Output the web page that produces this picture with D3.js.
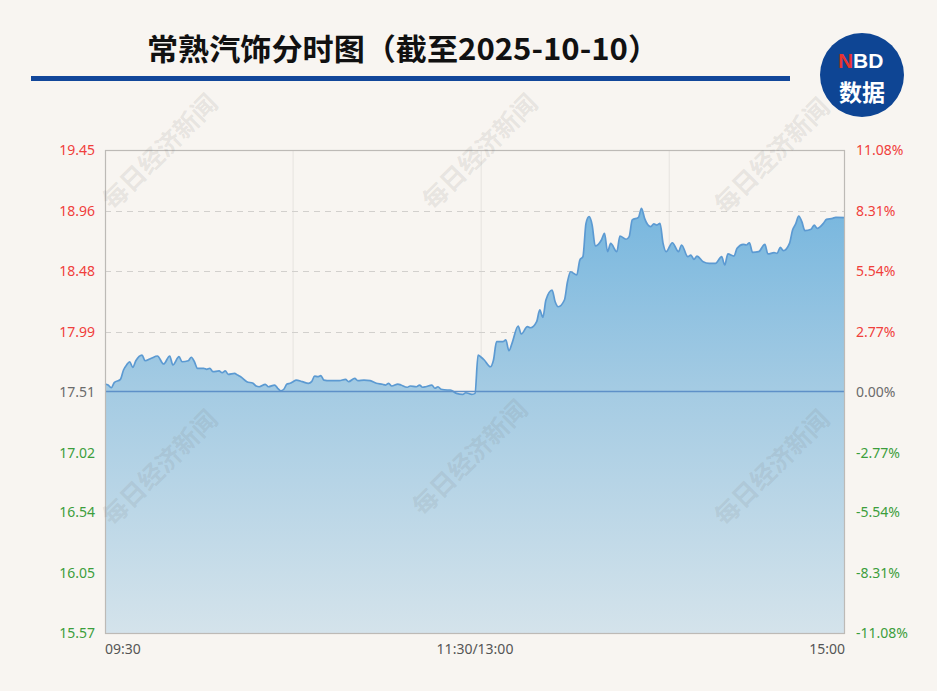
<!DOCTYPE html>
<html><head><meta charset="utf-8">
<script src="https://cdn.jsdelivr.net/npm/d3@7"></script>
<style>
html,body{margin:0;padding:0;background:#f8f5f1;}
svg{display:block;}
</style></head>
<body>
<svg id="c" width="937" height="691"></svg>
<script>
const title = "常熟汽饰分时图（截至2025-10-10）";
const prevClose = 17.51;
const priceTicks = [19.45,18.96,18.48,17.99,17.51,17.02,16.54,16.05,15.57];
const pctTicks = ["11.08%","8.31%","5.54%","2.77%","0.00%","-2.77%","-5.54%","-8.31%","-11.08%"];
const xLabels = [{i:0,t:"09:30"},{i:120,t:"11:30/13:00"},{i:240,t:"15:00"}];
const xGridIdx = [61,122,183];
// minute index (0..240, 09:30 -> 15:00 trading minutes)
const mins = [0,1,2,3,5,6,7,8,9,10,12,13,15,17,19,21,22,24,25,27,28,29,30,32,33,34,35,37,38,39,40,42,43,44,46,48,49,50,52,53,55,56,57,58,59,60,
61,62,64,66,67,68,69,70,71,73,76,78,79,81,82,84,86,88,90,91,92,93,95,96,98,99,101,102,103,104,106,107,108,109,111,112,114,116,117,119,120,
121,122,123,125,126,127,129,130,131,132,134,135,137,138,140,141,142,143,145,146,147,149,150,151,153,154,155,156,157,158,159,161,162,163,164,166,167,169,170,171,173,174,175,177,178,179,
180,181,182,184,186,187,189,190,191,192,194,196,198,200,201,202,204,205,207,208,209,210,212,214,215,217,218,219,220,222,223,224,225,226,227,229,230,231,233,234,236,237,240];
const prices = [17.57,17.562,17.54,17.581,17.608,17.683,17.723,17.749,17.704,17.757,17.803,17.757,17.777,17.795,17.731,17.795,17.723,17.79,17.749,17.757,17.785,17.749,17.696,17.696,17.688,17.696,17.669,17.675,17.661,17.675,17.648,17.656,17.642,17.629,17.589,17.576,17.554,17.548,17.568,17.548,17.562,17.536,17.516,17.528,17.57,17.576,
17.589,17.602,17.589,17.576,17.589,17.634,17.629,17.637,17.602,17.597,17.597,17.608,17.589,17.616,17.597,17.602,17.597,17.576,17.568,17.562,17.576,17.554,17.57,17.562,17.544,17.554,17.548,17.562,17.544,17.548,17.562,17.536,17.548,17.528,17.522,17.522,17.495,17.487,17.5,17.487,17.495,
17.803,17.785,17.763,17.709,17.763,17.91,17.91,17.924,17.838,17.897,18.036,17.972,18.031,18.022,18.071,18.165,18.106,18.245,18.325,18.231,18.191,18.245,18.392,18.472,18.446,18.566,18.593,18.861,18.914,18.847,18.679,18.727,18.781,18.633,18.7,18.633,18.759,18.733,18.754,18.888,18.909,18.982,18.901,18.834,18.856,18.847,
18.861,18.7,18.633,18.705,18.633,18.687,18.593,18.606,18.572,18.598,18.553,18.54,18.54,18.593,18.526,18.615,18.598,18.66,18.692,18.687,18.705,18.628,18.633,18.692,18.615,18.625,18.62,18.668,18.641,18.7,18.807,18.856,18.92,18.874,18.802,18.813,18.847,18.821,18.861,18.893,18.901,18.909,18.906];
const watermarks = [[160,152],[480,152],[772,156],[160,468],[470,458],[772,468]];

const svg = d3.select("#c");
const L=105,R=845,T=150,B=633;
const x = d3.scaleLinear().domain([0,240]).range([L,R]);
const y = d3.scaleLinear().domain([15.57,19.45]).range([B,T]);
const data = mins.map((m,k)=>({m,p:prices[k]}));

// title
svg.append("text").attr("x",403).attr("y",60).attr("text-anchor","middle")
  .attr("font-family","'Noto Sans CJK SC','Noto Sans',sans-serif").attr("font-weight","bold")
  .attr("font-size",30).attr("textLength",512).attr("lengthAdjust","spacingAndGlyphs")
  .attr("fill","#111").text(title);
svg.append("rect").attr("x",31).attr("y",76).attr("width",759).attr("height",5).attr("fill","#12479a");

// logo
svg.append("circle").attr("cx",862).attr("cy",75).attr("r",42).attr("fill","#0e4594");
svg.append("text").attr("x",838).attr("y",68).attr("text-anchor","start")
  .attr("font-family","'Liberation Sans',Arial,sans-serif").attr("font-weight","bold").attr("font-size",21)
  .attr("fill","#e8342f").text("N");
svg.append("text").attr("x",853).attr("y",68).attr("text-anchor","start")
  .attr("font-family","'Liberation Sans',Arial,sans-serif").attr("font-weight","bold").attr("font-size",21)
  .attr("fill","#fff").text("BD");
svg.append("text").attr("x",862).attr("y",101).attr("text-anchor","middle")
  .attr("font-family","'Noto Sans CJK SC',sans-serif").attr("font-weight","bold").attr("font-size",23)
  .attr("fill","#fff").text("数据");

// gradient
const defs = svg.append("defs");
const g = defs.append("linearGradient").attr("id","ag").attr("gradientUnits","userSpaceOnUse")
  .attr("x1",0).attr("y1",T+40).attr("x2",0).attr("y2",B);
g.append("stop").attr("offset","0%").attr("stop-color","#74b5de");
g.append("stop").attr("offset","45%").attr("stop-color","#a4cbe3");
g.append("stop").attr("offset","100%").attr("stop-color","#d4e3eb");

// vertical grid
svg.selectAll(".vg").data(xGridIdx).join("line").attr("x1",d=>x(d)).attr("x2",d=>x(d))
  .attr("y1",T).attr("y2",B).attr("stroke","#e6e3df").attr("stroke-width",1);
// horizontal dashed grid
svg.selectAll(".hg").data(priceTicks.slice(1,-1)).join("line")
  .attr("x1",L).attr("x2",R).attr("y1",d=>Math.round(y(d))+0.5).attr("y2",d=>Math.round(y(d))+0.5)
  .attr("stroke","#d2d0cd").attr("stroke-width",1).attr("stroke-dasharray","6,5");

// area & line
const curve = d3.curveMonotoneX;
svg.append("path").datum(data).attr("fill","url(#ag)")
  .attr("d",d3.area().x(d=>x(d.m)).y0(B).y1(d=>y(d.p)).curve(curve));
svg.append("path").datum(data).attr("fill","none").attr("stroke","#5c9ad2").attr("stroke-width",1.7)
  .attr("d",d3.line().x(d=>x(d.m)).y(d=>y(d.p)).curve(curve));
// prev close line
svg.append("line").attr("x1",L).attr("x2",R).attr("y1",y(prevClose)).attr("y2",y(prevClose))
  .attr("stroke","#5e90c8").attr("stroke-width",1.5);

// border
svg.append("rect").attr("x",L+0.5).attr("y",T+0.5).attr("width",R-L-1).attr("height",B-T)
  .attr("fill","none").attr("stroke","#bdbab6").attr("stroke-width",1.2);

// watermarks
watermarks.forEach(([cx,cy])=>{
  svg.append("text").attr("transform",`translate(${cx},${cy}) rotate(-45)`).attr("text-anchor","middle")
    .attr("dy","0.35em").attr("font-family","'Noto Sans CJK SC',sans-serif").attr("font-weight","bold")
    .attr("font-size",25).attr("fill","rgba(120,120,120,0.15)").text("每日经济新闻");
});

// axes labels
const col = (k)=> k<4 ? "#f0403c" : (k===4 ? "#6b6b6b" : "#3c9e3c");
const font = "'Noto Sans','DejaVu Sans',sans-serif";
svg.selectAll(".ly").data(priceTicks).join("text").attr("x",95).attr("y",d=>y(d)).attr("dy","0.36em")
  .attr("text-anchor","end").attr("font-family",font).attr("font-size",14)
  .attr("fill",(d,k)=>col(k)).text(d=>d.toFixed(2));
svg.selectAll(".ry").data(pctTicks).join("text").attr("x",856).attr("y",(d,k)=>y(priceTicks[k])).attr("dy","0.36em")
  .attr("text-anchor","start").attr("font-family",font).attr("font-size",14)
  .attr("fill",(d,k)=>col(k)).text(d=>d);
svg.selectAll(".xl").data(xLabels).join("text").attr("x",d=>x(d.i)).attr("y",654)
  .attr("text-anchor",d=>d.i===0?"start":(d.i===240?"end":"middle"))
  .attr("font-family",font).attr("font-size",14).attr("fill","#555").text(d=>d.t);
</script>
</body></html>
